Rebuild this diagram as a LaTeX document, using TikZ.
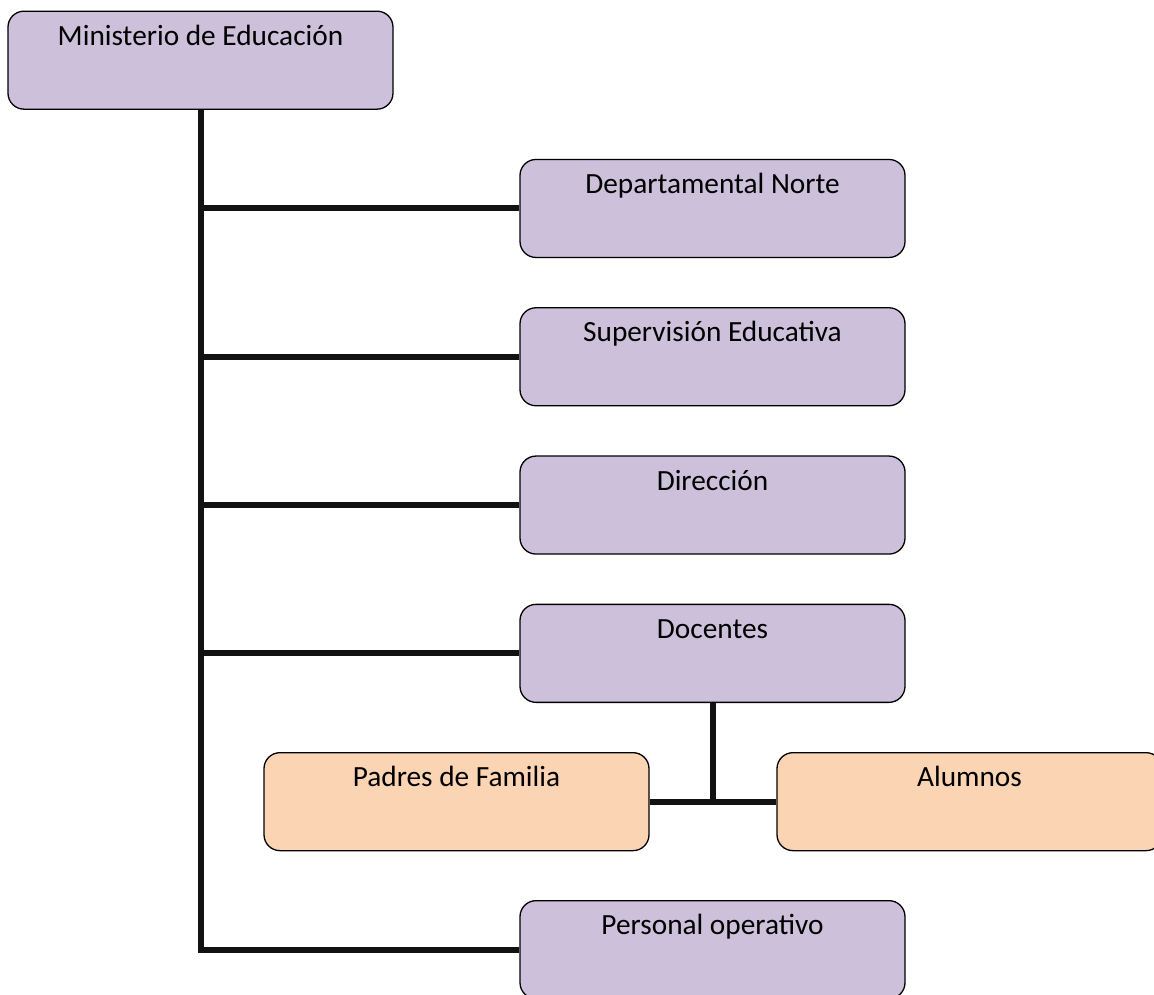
\documentclass[tikz,border=0pt]{standalone}
\usepackage{fontspec}
\setmainfont{Carlito}
\usetikzlibrary{positioning}
\definecolor{lila}{HTML}{CCC0DA}
\definecolor{durazno}{HTML}{FBD4B4}

\begin{document}
\begin{tikzpicture}[x=1pt,y=1pt,node distance=50pt,
    box/.style={draw,line width=1.3pt,rounded corners=16pt,fill=lila,inner sep=0pt,
        minimum width=385pt,text height=34pt,text depth=64pt,
        font=\fontsize{29.3}{35}\selectfont},
    hijo/.style={box,fill=durazno},
    rama/.style={line width=6pt,draw=black!93}]

            \useasboundingbox (0,0) rectangle (1154,-994);

            \node[box, anchor=north] (min) at (200.5,-10.5) {Ministerio de Educación};
            \node[box] (dep) [below=49pt of min, xshift=512pt] {Departamental Norte};
            \node[box] (sup) [below=49pt of dep] {Supervisión Educativa};
            \node[box] (dir) [below=49pt of sup] {Dirección};
            \node[box] (doc) [below=49pt of dir] {Docentes};
            \node[hijo] (pad) [below=49pt of doc, xshift=-256pt] {Padres de Familia};
            \node[hijo] (alu) [below=49pt of doc, xshift=257pt] {Alumnos};
            \node[box] (per) [below=197pt of doc] {Personal operativo};

            \draw[rama] (min.south) |- (per.west);
            \draw[rama] (min.south |- dep.west) to (dep.west);
            \draw[rama] (min.south |- sup.west) to (sup.west);
            \draw[rama] (min.south |- dir.west) to (dir.west);
            \draw[rama] (min.south |- doc.west) to (doc.west);
            \draw[rama] (pad.east) to (alu.west);
            \draw[rama] (doc.south) to (doc.south |- pad.east);
            % las cajas encima de las lineas
\end{tikzpicture}
\end{document}
